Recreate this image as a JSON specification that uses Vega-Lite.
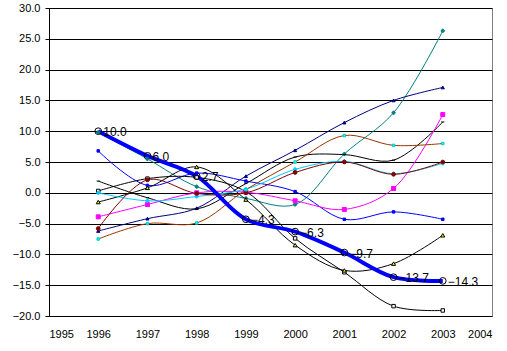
{
  "$schema": "https://vega.github.io/schema/vega-lite/v6.json",
  "width": 443,
  "height": 308,
  "autosize": {"type": "none"},
  "padding": {"left": 49, "top": 8, "right": 15, "bottom": 35},
  "background": "white",
  "config": {
    "view": {"stroke": "#808080", "strokeWidth": 1},
    "font": "Liberation Sans"
  },
  "datasets": {
    "series": [
      {"s": "T", "year": 1996, "v": 10.0}, {"s": "T", "year": 1997, "v": 6.0}, {"s": "T", "year": 1998, "v": 2.7}, {"s": "T", "year": 1999, "v": -4.3},
      {"s": "T", "year": 2000, "v": -6.3}, {"s": "T", "year": 2001, "v": -9.7}, {"s": "T", "year": 2002, "v": -13.7}, {"s": "T", "year": 2003, "v": -14.3},
      {"s": "Teal", "year": 1996, "v": 9.8}, {"s": "Teal", "year": 1997, "v": 5.5}, {"s": "Teal", "year": 1998, "v": 1.0}, {"s": "Teal", "year": 1999, "v": -0.9},
      {"s": "Teal", "year": 2000, "v": -1.9}, {"s": "Teal", "year": 2001, "v": 6.3}, {"s": "Teal", "year": 2002, "v": 13.0}, {"s": "Teal", "year": 2003, "v": 26.3},
      {"s": "Navy", "year": 1996, "v": -6.2}, {"s": "Navy", "year": 1997, "v": -4.2}, {"s": "Navy", "year": 1998, "v": -2.5}, {"s": "Navy", "year": 1999, "v": 2.7},
      {"s": "Navy", "year": 2000, "v": 6.9}, {"s": "Navy", "year": 2001, "v": 11.4}, {"s": "Navy", "year": 2002, "v": 15.0}, {"s": "Navy", "year": 2003, "v": 17.1},
      {"s": "Blue", "year": 1996, "v": 6.8}, {"s": "Blue", "year": 1997, "v": 1.2}, {"s": "Blue", "year": 1998, "v": 3.2}, {"s": "Blue", "year": 1999, "v": 1.9},
      {"s": "Blue", "year": 2000, "v": 0.2}, {"s": "Blue", "year": 2001, "v": -4.3}, {"s": "Blue", "year": 2002, "v": -3.1}, {"s": "Blue", "year": 2003, "v": -4.3},
      {"s": "Sq", "year": 1996, "v": 0.3}, {"s": "Sq", "year": 1997, "v": 2.3}, {"s": "Sq", "year": 1998, "v": 2.5}, {"s": "Sq", "year": 1999, "v": 0.2},
      {"s": "Sq", "year": 2000, "v": -7.4}, {"s": "Sq", "year": 2001, "v": -12.9}, {"s": "Sq", "year": 2002, "v": -18.4}, {"s": "Sq", "year": 2003, "v": -19.1},
      {"s": "Tri", "year": 1996, "v": -1.5}, {"s": "Tri", "year": 1997, "v": 0.8}, {"s": "Tri", "year": 1998, "v": 4.2}, {"s": "Tri", "year": 1999, "v": -1.1},
      {"s": "Tri", "year": 2000, "v": -8.5}, {"s": "Tri", "year": 2001, "v": -12.6}, {"s": "Tri", "year": 2002, "v": -11.5}, {"s": "Tri", "year": 2003, "v": -6.9},
      {"s": "Dash", "year": 1996, "v": 1.9}, {"s": "Dash", "year": 1997, "v": -0.8}, {"s": "Dash", "year": 1998, "v": -2.6}, {"s": "Dash", "year": 1999, "v": 1.5},
      {"s": "Dash", "year": 2000, "v": 5.8}, {"s": "Dash", "year": 2001, "v": 6.2}, {"s": "Dash", "year": 2002, "v": 5.3}, {"s": "Dash", "year": 2003, "v": 11.5},
      {"s": "Mag", "year": 1996, "v": -3.9}, {"s": "Mag", "year": 1997, "v": -1.9}, {"s": "Mag", "year": 1998, "v": 0.0}, {"s": "Mag", "year": 1999, "v": 0.1},
      {"s": "Mag", "year": 2000, "v": -1.3}, {"s": "Mag", "year": 2001, "v": -2.7}, {"s": "Mag", "year": 2002, "v": 0.7}, {"s": "Mag", "year": 2003, "v": 12.7},
      {"s": "Cy", "year": 1996, "v": 0.0}, {"s": "Cy", "year": 1997, "v": -1.3}, {"s": "Cy", "year": 1998, "v": -0.6}, {"s": "Cy", "year": 1999, "v": 0.6},
      {"s": "Cy", "year": 2000, "v": 3.8}, {"s": "Cy", "year": 2001, "v": 5.1}, {"s": "Cy", "year": 2002, "v": 3.1}, {"s": "Cy", "year": 2003, "v": 4.8},
      {"s": "Mar", "year": 1996, "v": -5.8}, {"s": "Mar", "year": 1997, "v": 2.1}, {"s": "Mar", "year": 1998, "v": -0.1}, {"s": "Mar", "year": 1999, "v": 0.0},
      {"s": "Mar", "year": 2000, "v": 3.3}, {"s": "Mar", "year": 2001, "v": 5.0}, {"s": "Mar", "year": 2002, "v": 3.0}, {"s": "Mar", "year": 2003, "v": 5.0},
      {"s": "Si", "year": 1996, "v": -7.5}, {"s": "Si", "year": 1997, "v": -5.0}, {"s": "Si", "year": 1998, "v": -4.9}, {"s": "Si", "year": 1999, "v": 0.5},
      {"s": "Si", "year": 2000, "v": 5.0}, {"s": "Si", "year": 2001, "v": 9.3}, {"s": "Si", "year": 2002, "v": 7.7}, {"s": "Si", "year": 2003, "v": 8.0}
    ],
    "years": [
      {"year": 1995}, {"year": 1996}, {"year": 1997}, {"year": 1998}, {"year": 1999},
      {"year": 2000}, {"year": 2001}, {"year": 2002}, {"year": 2003}, {"year": 2004}
    ]
  },
  "encoding": {
    "x": {
      "field": "year", "type": "quantitative",
      "scale": {"domain": [1995, 2004], "nice": false, "zero": false},
      "axis": {
        "tickCount": 9,
        "format": "d", "title": null, "grid": false, "domain": false, "ticks": false,
        "labelPadding": 12, "labelFontSize": 11, "labelColor": "#000000", "labelFont": "Liberation Sans", "labelOverlap": false
      }
    },
    "y": {
      "field": "v", "type": "quantitative",
      "scale": {"domain": [-20, 30], "nice": false, "zero": false},
      "axis": {
        "tickCount": 10,
        "format": ".1f", "title": null, "grid": true, "gridColor": "#000000", "gridWidth": 1, "gridOpacity": 1,
        "domainColor": "#000000", "tickColor": "#000000", "tickSize": 4, "labelOverlap": false,
        "labelPadding": 5, "labelFontSize": 11, "labelColor": "#000000", "labelFont": "Liberation Sans"
      }
    }
  },
  "layer": [
    {
      "data": {"name": "series"},
      "transform": [{"filter": "datum.s !== 'T'"}],
      "mark": {"type": "line", "interpolate": "catmull-rom", "strokeWidth": 1},
      "encoding": {
        "color": {
          "field": "s", "type": "nominal", "legend": null,
          "scale": {
            "domain": ["T", "Teal", "Navy", "Blue", "Sq", "Tri", "Dash", "Mag", "Cy", "Mar", "Si"],
            "range": ["#0000FF", "#008080", "#000080", "#0000FF", "#000000", "#000000", "#000000", "#FF00FF", "#00CCFF", "#800000", "#993300"]
          }
        },
        "detail": {"field": "s"}
      }
    },
    {
      "data": {"name": "years"},
      "mark": {"type": "rule", "color": "#000000", "strokeWidth": 1},
      "encoding": {
        "y": {"datum": 0.65, "type": "quantitative"},
        "y2": {"datum": 0}
      }
    },
    {
      "data": {"name": "series"},
      "transform": [{"filter": "datum.s === 'T'"}],
      "mark": {"type": "line", "interpolate": "catmull-rom", "strokeWidth": 4, "color": "#0000FF"}
    },
    {
      "data": {"name": "series"},
      "mark": {"type": "point", "filled": false, "strokeWidth": 1, "opacity": 1},
      "encoding": {
        "shape": {
          "field": "s", "type": "nominal", "legend": null,
          "scale": {
            "domain": ["T", "Teal", "Navy", "Blue", "Sq", "Tri", "Dash", "Mag", "Cy", "Mar", "Si"],
            "range": ["circle", "cross", "triangle-up", "square", "square", "triangle-up", "stroke", "square", "cross", "circle", "square"]
          }
        },
        "fill": {
          "field": "s", "type": "nominal", "legend": null,
          "scale": {
            "domain": ["T", "Teal", "Navy", "Blue", "Sq", "Tri", "Dash", "Mag", "Cy", "Mar", "Si"],
            "range": ["transparent", "#008080", "#000080", "#0000FF", "#FFFFFF", "#FFFF00", "#000000", "#FF00FF", "#00CCFF", "#800000", "#00FFFF"]
          }
        },
        "stroke": {
          "field": "s", "type": "nominal", "legend": null,
          "scale": {
            "domain": ["T", "Teal", "Navy", "Blue", "Sq", "Tri", "Dash", "Mag", "Cy", "Mar", "Si"],
            "range": ["#000000", "#008080", "#000080", "#0000FF", "#000000", "#000000", "#000000", "#FF00FF", "#00CCFF", "#800000", "#00CCCC"]
          }
        },
        "size": {
          "field": "s", "type": "nominal", "legend": null,
          "scale": {
            "type": "ordinal",
            "domain": ["T", "Teal", "Navy", "Blue", "Sq", "Tri", "Dash", "Mag", "Cy", "Mar", "Si"],
            "range": [45, 10, 10, 6, 12, 16, 10, 16, 10, 14, 6]
          }
        }
      }
    },
    {
      "data": {"name": "series"},
      "transform": [{"filter": "datum.s === 'T'"}],
      "mark": {"type": "text", "align": "left", "baseline": "middle", "dx": 5, "dy": 1, "fontSize": 12, "font": "Liberation Sans", "color": "#000000"},
      "encoding": {
        "text": {"field": "v", "type": "quantitative", "format": ".1f"}
      }
    }
  ]
}
